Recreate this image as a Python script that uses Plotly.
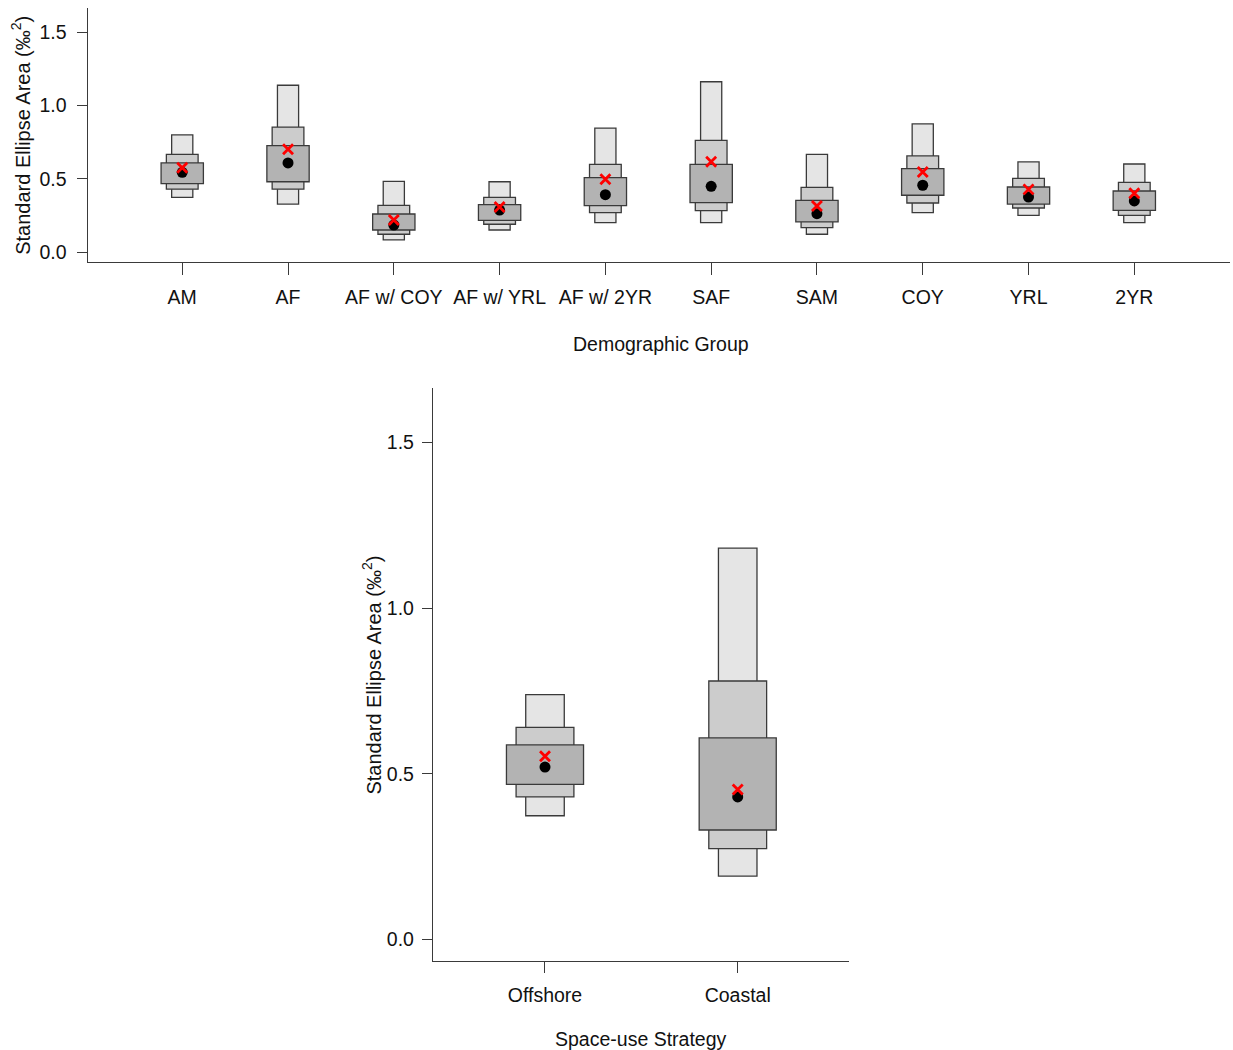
import plotly.graph_objects as go

# ---- Demographic groups: SEA credible intervals, mode and ML estimate ----
groups = ["AM", "AF", "AF w/ COY", "AF w/ YRL", "AF w/ 2YR",
          "SAF", "SAM", "COY", "YRL", "2YR"]
g_lo95 = [0.375, 0.329, 0.084, 0.152, 0.202, 0.202, 0.123, 0.270, 0.252, 0.202]
g_hi95 = [0.800, 1.139, 0.484, 0.481, 0.847, 1.163, 0.668, 0.875, 0.616, 0.602]
g_lo75 = [0.430, 0.430, 0.123, 0.191, 0.270, 0.284, 0.168, 0.336, 0.302, 0.252]
g_hi75 = [0.668, 0.854, 0.320, 0.375, 0.600, 0.763, 0.443, 0.657, 0.504, 0.477]
g_lo50 = [0.468, 0.481, 0.152, 0.218, 0.318, 0.338, 0.207, 0.389, 0.329, 0.286]
g_hi50 = [0.609, 0.727, 0.261, 0.325, 0.509, 0.600, 0.354, 0.570, 0.445, 0.418]
g_mode = [0.545, 0.609, 0.186, 0.288, 0.393, 0.450, 0.263, 0.457, 0.377, 0.350]
g_ml = [0.577, 0.702, 0.220, 0.309, 0.498, 0.618, 0.316, 0.547, 0.429, 0.402]

# ---- Space-use strategies ----
strategies = ["Offshore", "Coastal"]
s_lo95 = [0.373, 0.191]
s_hi95 = [0.739, 1.181]
s_lo75 = [0.430, 0.274]
s_hi75 = [0.640, 0.780]
s_lo50 = [0.468, 0.330]
s_hi50 = [0.587, 0.608]
s_mode = [0.520, 0.430]
s_ml = [0.553, 0.452]

y_ticks = [0.0, 0.5, 1.0, 1.5]
y_tick_text = ["0.0", "0.5", "1.0", "1.5"]

FONT = "Liberation Sans, Arial, Helvetica, sans-serif"
TEXT = "#111111"
EDGE = "#3a3a3a"
FILLS = {"95": "#e5e5e5", "75": "#cccccc", "50": "#b3b3b3"}
WIDTHS = {"95": 0.2, "75": 0.3, "50": 0.4}
FS = 19.5

fig = go.Figure()


def add_panel(cats, lo95, hi95, lo75, hi75, lo50, hi50, mode, ml, xa, ya):
    for key, lo, hi in (("95", lo95, hi95), ("75", lo75, hi75), ("50", lo50, hi50)):
        fig.add_trace(go.Bar(
            x=cats, y=[h - l for l, h in zip(lo, hi)], base=lo,
            width=WIDTHS[key], xaxis=xa, yaxis=ya,
            marker=dict(color=FILLS[key], line=dict(color=EDGE, width=1.3)),
            name=key + "% CI", showlegend=False,
        ))
    fig.add_trace(go.Scatter(
        x=cats, y=mode, mode="markers", xaxis=xa, yaxis=ya,
        marker=dict(symbol="circle", size=11, color="black"),
        name="mode", showlegend=False,
    ))
    fig.add_trace(go.Scatter(
        x=cats, y=ml, mode="markers", xaxis=xa, yaxis=ya,
        marker=dict(symbol="x-thin", size=10, line=dict(color="#ff0000", width=2.8)),
        name="ML", showlegend=False,
    ))


add_panel(groups, g_lo95, g_hi95, g_lo75, g_hi75, g_lo50, g_hi50, g_mode, g_ml, "x", "y")
add_panel(strategies, s_lo95, s_hi95, s_lo75, s_hi75, s_lo50, s_hi50, s_mode, s_ml, "x2", "y2")

axis_common = dict(
    showline=True, linecolor=EDGE, linewidth=1.3, mirror=False,
    ticks="outside", tickcolor=EDGE, tickwidth=1.3,
    showgrid=False, zeroline=False,
    tickfont=dict(family=FONT, size=FS, color=TEXT),
)

fig.update_layout(
    width=1233, height=1050,
    margin=dict(l=0, r=0, t=0, b=0),
    paper_bgcolor="white", plot_bgcolor="white",
    barmode="overlay",
    font=dict(family=FONT, size=FS, color=TEXT),
    xaxis=dict(axis_common, domain=[0.0711, 0.9976], anchor="y", type="category",
               range=[-0.894, 9.905], ticklen=12, ticklabelstandoff=6),
    yaxis=dict(axis_common, domain=[0.7508, 0.9924], anchor="x",
               range=[-0.064, 1.666], tickvals=y_ticks, ticktext=y_tick_text,
               ticklen=10, ticklabelstandoff=6),
    xaxis2=dict(axis_common, domain=[0.3512, 0.6888], anchor="y2", type="category",
                range=[-0.581, 1.579], ticklen=11, ticklabelstandoff=5),
    yaxis2=dict(axis_common, domain=[0.0848, 0.6302], anchor="x2",
                range=[-0.0655, 1.664], tickvals=y_ticks, ticktext=y_tick_text,
                ticklen=10, ticklabelstandoff=4),
)

y_title = "Standard Ellipse Area (‰<sup>2</sup>)"
fig.add_annotation(text=y_title, xref="paper", yref="paper", x=0.017, y=0.8716,
                   textangle=-90, showarrow=False, xanchor="center", yanchor="middle",
                   font=dict(family=FONT, size=20, color=TEXT))
fig.add_annotation(text="Demographic Group", xref="paper", yref="paper", x=0.536, y=0.6724,
                   showarrow=False, xanchor="center", yanchor="middle",
                   font=dict(family=FONT, size=FS, color=TEXT))
fig.add_annotation(text=y_title, xref="paper", yref="paper", x=0.3017, y=0.3575,
                   textangle=-90, showarrow=False, xanchor="center", yanchor="middle",
                   font=dict(family=FONT, size=20, color=TEXT))
fig.add_annotation(text="Space-use Strategy", xref="paper", yref="paper", x=0.5199, y=0.0105,
                   showarrow=False, xanchor="center", yanchor="middle",
                   font=dict(family=FONT, size=FS, color=TEXT))

fig.write_html("out.html")
